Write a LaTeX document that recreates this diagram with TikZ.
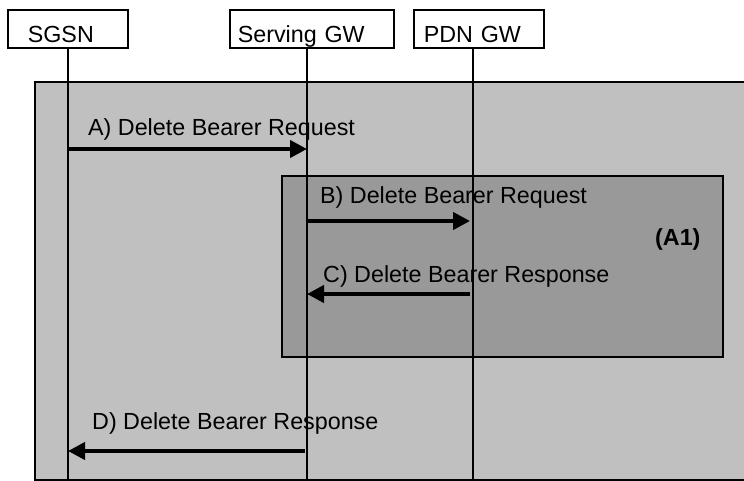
\documentclass[tikz,border=0pt]{standalone}
\usepackage{fontspec}
\setmainfont{Liberation Sans}
\usepackage{tikz}
\usetikzlibrary{arrows.meta,positioning}
\usepackage{xcolor}
\definecolor{outergray}{HTML}{C0C0C0}
\definecolor{innergray}{HTML}{999999}

\begin{document}
\begin{tikzpicture}[x=1pt, y=-1pt,
  every node/.style={font=\fontsize{23.3}{28}\selectfont},
  head/.style={draw, line width=1.6pt, fill=white, anchor=north west, inner ysep=0pt,
    text height=33pt, text depth=5pt, align=left},
  frame/.style={draw, line width=1.6pt},
  life/.style={line width=1.5pt},
  msg/.style={-{Triangle[length=17pt, width=17pt]}, line width=4pt},
  lab/.style={anchor=base west, inner sep=0pt}]
  \useasboundingbox (0,0) rectangle (744,481);
  \draw[frame, fill=outergray] (35,82) rectangle (750,480);
  \draw[frame, fill=innergray] (282,176) rectangle (723,357);
  \node[head, inner xsep=20pt, text width=80pt] (sgsn) at (7,9) {SGSN};
  \node[head, inner xsep=8pt, text width=148pt] (sgw) at (229,9) {Serving GW};
  \node[head, inner xsep=10pt, text width=110pt] (pgw) at (413,9) {PDN GW};
  \coordinate (sgsnEnd) at (68,481);
  \coordinate (sgwEnd) at (307,481);
  \coordinate (pgwEnd) at (473,481);
  \draw[life] (sgsn.south -| sgsnEnd) -- (sgsnEnd);
  \draw[life] (sgw.south -| sgwEnd) -- (sgwEnd);
  \draw[life] (pgw.south -| pgwEnd) -- (pgwEnd);
  \coordinate (lvA) at (0,149);
  \coordinate (lvB) at (0,221);
  \coordinate (lvC) at (0,294);
  \coordinate (lvD) at (0,451);
  \draw[msg] (sgsnEnd |- lvA) -- (sgwEnd |- lvA);
  \draw[msg, shorten >=3pt] (sgwEnd |- lvB) -- (pgwEnd |- lvB);
  \draw[msg, shorten <=3pt] (pgwEnd |- lvC) -- (sgwEnd |- lvC);
  \draw[msg, shorten <=2pt] (sgwEnd |- lvD) -- (sgsnEnd |- lvD);
  \node[lab] (labA) at (88,136) {A) Delete Bearer Request};
  \node[lab] (labB) at (320,204) {B) Delete Bearer Request};
  \node[lab] (labC) at (323,282) {C) Delete Bearer Response};
  \node[lab] (labD) at (92,429) {D) Delete Bearer Response};
  \node[lab, font=\fontsize{23.3}{28}\selectfont\bfseries] (a1) at (655,245) {(A1)};
\end{tikzpicture}
\end{document}
